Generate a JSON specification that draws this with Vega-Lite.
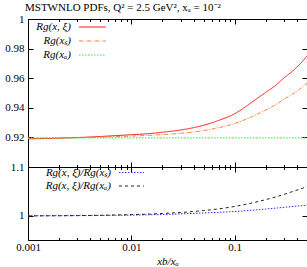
{
  "$schema": "https://vega.github.io/schema/vega-lite/v6.json",
  "autosize": {"type": "pad"},
  "padding": {"left": 4, "top": 1, "right": 0, "bottom": 0},
  "bounds": "flush",
  "spacing": 0,
  "title": {"text": "MSTWNLO PDFs, Q² = 2.5 GeV², xₐ = 10⁻²", "anchor": "start", "frame": "group", "dx": -3, "offset": 0, "font": "Liberation Serif", "fontSize": 11, "fontWeight": "normal", "color": "#000"},
  "config": {
    "view": {"stroke": "#000", "strokeWidth": 1},
    "axis": {"domain": false, "grid": false, "tickColor": "#000", "tickWidth": 1, "labelFont": "Liberation Serif", "labelFontSize": 11, "labelColor": "#000", "titleFont": "Liberation Serif", "titleFontSize": 11, "titleFontWeight": "normal", "titleFontStyle": "italic", "titleColor": "#000", "labelOverlap": false, "labelFlush": false},
    "legend": {"labelFont": "Liberation Serif", "labelFontSize": 11, "labelFontStyle": "italic", "labelColor": "#000", "padding": 0}
  },
  "resolve": {"scale": {"color": "independent", "strokeDash": "independent"}},
  "datasets": {
    "top": [
      {"x": 0.001, "v": 0.9190, "s": "Rg(x, ξ)"}, {"x": 0.002, "v": 0.9195, "s": "Rg(x, ξ)"}, {"x": 0.003, "v": 0.9199, "s": "Rg(x, ξ)"}, {"x": 0.005, "v": 0.9206, "s": "Rg(x, ξ)"}, {"x": 0.007, "v": 0.9212, "s": "Rg(x, ξ)"}, {"x": 0.01, "v": 0.9218, "s": "Rg(x, ξ)"}, {"x": 0.015, "v": 0.9226, "s": "Rg(x, ξ)"}, {"x": 0.02, "v": 0.9235, "s": "Rg(x, ξ)"}, {"x": 0.03, "v": 0.9250, "s": "Rg(x, ξ)"}, {"x": 0.05, "v": 0.9282, "s": "Rg(x, ξ)"}, {"x": 0.07, "v": 0.9315, "s": "Rg(x, ξ)"}, {"x": 0.1, "v": 0.9360, "s": "Rg(x, ξ)"}, {"x": 0.15, "v": 0.9443, "s": "Rg(x, ξ)"}, {"x": 0.2, "v": 0.9505, "s": "Rg(x, ξ)"}, {"x": 0.25, "v": 0.9553, "s": "Rg(x, ξ)"}, {"x": 0.3, "v": 0.9602, "s": "Rg(x, ξ)"}, {"x": 0.35, "v": 0.9639, "s": "Rg(x, ξ)"}, {"x": 0.4, "v": 0.9676, "s": "Rg(x, ξ)"}, {"x": 0.45, "v": 0.9712, "s": "Rg(x, ξ)"}, {"x": 0.5, "v": 0.9751, "s": "Rg(x, ξ)"},
      {"x": 0.001, "v": 0.9193, "s": "Rg(xₛ)"}, {"x": 0.002, "v": 0.9196, "s": "Rg(xₛ)"}, {"x": 0.003, "v": 0.9198, "s": "Rg(xₛ)"}, {"x": 0.005, "v": 0.9202, "s": "Rg(xₛ)"}, {"x": 0.007, "v": 0.9205, "s": "Rg(xₛ)"}, {"x": 0.01, "v": 0.9209, "s": "Rg(xₛ)"}, {"x": 0.015, "v": 0.9214, "s": "Rg(xₛ)"}, {"x": 0.02, "v": 0.9219, "s": "Rg(xₛ)"}, {"x": 0.03, "v": 0.9228, "s": "Rg(xₛ)"}, {"x": 0.05, "v": 0.9246, "s": "Rg(xₛ)"}, {"x": 0.07, "v": 0.9266, "s": "Rg(xₛ)"}, {"x": 0.1, "v": 0.9294, "s": "Rg(xₛ)"}, {"x": 0.15, "v": 0.9343, "s": "Rg(xₛ)"}, {"x": 0.2, "v": 0.9385, "s": "Rg(xₛ)"}, {"x": 0.25, "v": 0.9422, "s": "Rg(xₛ)"}, {"x": 0.3, "v": 0.9458, "s": "Rg(xₛ)"}, {"x": 0.35, "v": 0.9487, "s": "Rg(xₛ)"}, {"x": 0.4, "v": 0.9512, "s": "Rg(xₛ)"}, {"x": 0.45, "v": 0.9540, "s": "Rg(xₛ)"}, {"x": 0.5, "v": 0.9565, "s": "Rg(xₛ)"},
      {"x": 0.001, "v": 0.9197, "s": "Rg(xₐ)"}, {"x": 0.01, "v": 0.9197, "s": "Rg(xₐ)"}, {"x": 0.1, "v": 0.9197, "s": "Rg(xₐ)"}, {"x": 0.5, "v": 0.9197, "s": "Rg(xₐ)"}
    ],
    "bottom": [
      {"x": 0.001, "v": 0.9998, "s": "Rg(x, ξ)/Rg(xₛ)"}, {"x": 0.002, "v": 0.9999, "s": "Rg(x, ξ)/Rg(xₛ)"}, {"x": 0.003, "v": 1.0001, "s": "Rg(x, ξ)/Rg(xₛ)"}, {"x": 0.005, "v": 1.0004, "s": "Rg(x, ξ)/Rg(xₛ)"}, {"x": 0.007, "v": 1.0007, "s": "Rg(x, ξ)/Rg(xₛ)"}, {"x": 0.01, "v": 1.0011, "s": "Rg(x, ξ)/Rg(xₛ)"}, {"x": 0.015, "v": 1.0018, "s": "Rg(x, ξ)/Rg(xₛ)"}, {"x": 0.02, "v": 1.0024, "s": "Rg(x, ξ)/Rg(xₛ)"}, {"x": 0.03, "v": 1.0036, "s": "Rg(x, ξ)/Rg(xₛ)"}, {"x": 0.05, "v": 1.0055, "s": "Rg(x, ξ)/Rg(xₛ)"}, {"x": 0.07, "v": 1.0069, "s": "Rg(x, ξ)/Rg(xₛ)"}, {"x": 0.1, "v": 1.0086, "s": "Rg(x, ξ)/Rg(xₛ)"}, {"x": 0.15, "v": 1.0113, "s": "Rg(x, ξ)/Rg(xₛ)"}, {"x": 0.2, "v": 1.0137, "s": "Rg(x, ξ)/Rg(xₛ)"}, {"x": 0.25, "v": 1.0155, "s": "Rg(x, ξ)/Rg(xₛ)"}, {"x": 0.3, "v": 1.0172, "s": "Rg(x, ξ)/Rg(xₛ)"}, {"x": 0.35, "v": 1.0185, "s": "Rg(x, ξ)/Rg(xₛ)"}, {"x": 0.4, "v": 1.0197, "s": "Rg(x, ξ)/Rg(xₛ)"}, {"x": 0.45, "v": 1.0206, "s": "Rg(x, ξ)/Rg(xₛ)"}, {"x": 0.5, "v": 1.0214, "s": "Rg(x, ξ)/Rg(xₛ)"},
      {"x": 0.001, "v": 0.9995, "s": "Rg(x, ξ)/Rg(xₐ)"}, {"x": 0.002, "v": 0.9999, "s": "Rg(x, ξ)/Rg(xₐ)"}, {"x": 0.003, "v": 1.0002, "s": "Rg(x, ξ)/Rg(xₐ)"}, {"x": 0.005, "v": 1.0008, "s": "Rg(x, ξ)/Rg(xₐ)"}, {"x": 0.007, "v": 1.0014, "s": "Rg(x, ξ)/Rg(xₐ)"}, {"x": 0.01, "v": 1.0022, "s": "Rg(x, ξ)/Rg(xₐ)"}, {"x": 0.015, "v": 1.0033, "s": "Rg(x, ξ)/Rg(xₐ)"}, {"x": 0.02, "v": 1.0045, "s": "Rg(x, ξ)/Rg(xₐ)"}, {"x": 0.03, "v": 1.0065, "s": "Rg(x, ξ)/Rg(xₐ)"}, {"x": 0.05, "v": 1.0105, "s": "Rg(x, ξ)/Rg(xₐ)"}, {"x": 0.07, "v": 1.0140, "s": "Rg(x, ξ)/Rg(xₐ)"}, {"x": 0.1, "v": 1.0190, "s": "Rg(x, ξ)/Rg(xₐ)"}, {"x": 0.15, "v": 1.0265, "s": "Rg(x, ξ)/Rg(xₐ)"}, {"x": 0.2, "v": 1.0330, "s": "Rg(x, ξ)/Rg(xₐ)"}, {"x": 0.25, "v": 1.0385, "s": "Rg(x, ξ)/Rg(xₐ)"}, {"x": 0.3, "v": 1.0437, "s": "Rg(x, ξ)/Rg(xₐ)"}, {"x": 0.35, "v": 1.0485, "s": "Rg(x, ξ)/Rg(xₐ)"}, {"x": 0.4, "v": 1.0525, "s": "Rg(x, ξ)/Rg(xₐ)"}, {"x": 0.45, "v": 1.0563, "s": "Rg(x, ξ)/Rg(xₐ)"}, {"x": 0.5, "v": 1.0598, "s": "Rg(x, ξ)/Rg(xₐ)"}
    ]
  },
  "vconcat": [
    {
      "width": 279, "height": 148,
      "data": {"name": "top"},
      "resolve": {"axis": {"x": "independent", "y": "independent"}},
      "layer": [
        {
          "transform": [{"filter": "datum.s == 'Rg(x, ξ)'"}],
          "mark": {"type": "line", "strokeWidth": 1, "clip": true, "interpolate": "monotone"},
          "encoding": {
            "x": {"field": "x", "type": "quantitative", "scale": {"type": "log", "domain": [0.001, 0.5], "nice": false},
              "axis": {"orient": "bottom", "title": null, "labels": false, "values": [0.001,0.002,0.003,0.004,0.005,0.006,0.007,0.008,0.009,0.01,0.02,0.03,0.04,0.05,0.06,0.07,0.08,0.09,0.1,0.2,0.3,0.4,0.5],
                "tickSize": {"condition": {"test": "abs(log(datum.value)/LN10 - round(log(datum.value)/LN10)) < 0.001", "value": -5}, "value": -2.5}}},
            "y": {"field": "v", "type": "quantitative", "scale": {"domain": [0.9, 1.0], "nice": false, "zero": false},
              "axis": {"orient": "left", "title": null, "values": [0.92, 0.94, 0.96, 0.98, 1.0], "format": "~g", "tickSize": -5, "labelPadding": 9}},
            "color": {"field": "s", "type": "nominal", "scale": {"domain": ["Rg(x, ξ)", "Rg(xₛ)", "Rg(xₐ)"], "range": ["#ff1a1a", "#ff7f3f", "#22ee22"]},
              "legend": {"orient": "none", "legendX": 59, "legendY": 2.5, "title": null, "symbolType": "M-5,0H5", "symbolSize": 29, "symbolStrokeWidth": 1, "labelAlign": "right", "labelOffset": -27, "rowPadding": 2}},
            "strokeDash": {"field": "s", "type": "nominal", "scale": {"domain": ["Rg(x, ξ)", "Rg(xₛ)", "Rg(xₐ)"], "range": [[1, 0], [4, 1.5, 1, 1.5], [1.5, 1.5]]}, "legend": null}
          }
        },
        {
          "transform": [{"filter": "datum.s == 'Rg(xₛ)'"}],
          "mark": {"type": "line", "strokeWidth": 1, "clip": true, "interpolate": "monotone"},
          "encoding": {
            "x": {"field": "x", "type": "quantitative", "scale": {"type": "log", "domain": [0.001, 0.5], "nice": false},
              "axis": {"orient": "top", "title": null, "labels": false, "values": [0.001,0.002,0.003,0.004,0.005,0.006,0.007,0.008,0.009,0.01,0.02,0.03,0.04,0.05,0.06,0.07,0.08,0.09,0.1,0.2,0.3,0.4,0.5],
                "tickSize": {"condition": {"test": "abs(log(datum.value)/LN10 - round(log(datum.value)/LN10)) < 0.001", "value": -5}, "value": -2.5}}},
            "y": {"field": "v", "type": "quantitative", "scale": {"domain": [0.9, 1.0], "nice": false, "zero": false},
              "axis": {"orient": "right", "title": null, "labels": false, "values": [0.92, 0.94, 0.96, 0.98, 1.0], "tickSize": -5}},
            "color": {"field": "s", "type": "nominal", "legend": null},
            "strokeDash": {"field": "s", "type": "nominal", "legend": null}
          }
        },
        {
          "transform": [{"filter": "datum.s == 'Rg(xₐ)'"}],
          "mark": {"type": "line", "strokeWidth": 1, "clip": true},
          "encoding": {
            "x": {"field": "x", "type": "quantitative", "axis": null},
            "y": {"field": "v", "type": "quantitative", "axis": null},
            "color": {"field": "s", "type": "nominal", "legend": null},
            "strokeDash": {"field": "s", "type": "nominal", "legend": null}
          }
        }
      ]
    },
    {
      "width": 279, "height": 73,
      "data": {"name": "bottom"},
      "resolve": {"axis": {"x": "independent", "y": "independent"}},
      "layer": [
        {
          "transform": [{"filter": "datum.s == 'Rg(x, ξ)/Rg(xₛ)'"}],
          "mark": {"type": "line", "strokeWidth": 1, "clip": true, "interpolate": "monotone"},
          "encoding": {
            "x": {"field": "x", "type": "quantitative", "scale": {"type": "log", "domain": [0.001, 0.5], "nice": false},
              "axis": {"orient": "bottom", "title": "xb/xₐ", "format": "~g", "labelPadding": 6, "titlePadding": 1, "values": [0.001,0.002,0.003,0.004,0.005,0.006,0.007,0.008,0.009,0.01,0.02,0.03,0.04,0.05,0.06,0.07,0.08,0.09,0.1,0.2,0.3,0.4,0.5],
                "labelExpr": "abs(log(datum.value)/LN10 - round(log(datum.value)/LN10)) < 0.001 ? datum.label : ''",
                "tickSize": {"condition": {"test": "abs(log(datum.value)/LN10 - round(log(datum.value)/LN10)) < 0.001", "value": -5}, "value": -2.5}}},
            "y": {"field": "v", "type": "quantitative", "scale": {"domain": [0.95, 1.1], "nice": false, "zero": false},
              "axis": {"orient": "left", "title": null, "values": [1.0, 1.1], "format": "~g", "tickSize": -5, "labelPadding": 9}},
            "color": {"field": "s", "type": "nominal", "scale": {"domain": ["Rg(x, ξ)/Rg(xₛ)", "Rg(x, ξ)/Rg(xₐ)"], "range": ["#3333ff", "#222222"]},
              "legend": {"orient": "none", "legendX": 98, "legendY": 0, "title": null, "symbolType": "M-5,0H5", "symbolSize": 25, "symbolStrokeWidth": 1, "labelAlign": "right", "labelOffset": -26, "rowPadding": 1.5}},
            "strokeDash": {"field": "s", "type": "nominal", "scale": {"domain": ["Rg(x, ξ)/Rg(xₛ)", "Rg(x, ξ)/Rg(xₐ)"], "range": [[1.5, 1.5], [3, 3]]}, "legend": null}
          }
        },
        {
          "transform": [{"filter": "datum.s == 'Rg(x, ξ)/Rg(xₐ)'"}],
          "mark": {"type": "line", "strokeWidth": 1, "clip": true, "interpolate": "monotone"},
          "encoding": {
            "x": {"field": "x", "type": "quantitative", "scale": {"type": "log", "domain": [0.001, 0.5], "nice": false},
              "axis": {"orient": "top", "title": null, "labels": false, "values": [0.001,0.002,0.003,0.004,0.005,0.006,0.007,0.008,0.009,0.01,0.02,0.03,0.04,0.05,0.06,0.07,0.08,0.09,0.1,0.2,0.3,0.4,0.5],
                "tickSize": {"condition": {"test": "abs(log(datum.value)/LN10 - round(log(datum.value)/LN10)) < 0.001", "value": -5}, "value": -2.5}}},
            "y": {"field": "v", "type": "quantitative", "scale": {"domain": [0.95, 1.1], "nice": false, "zero": false},
              "axis": {"orient": "right", "title": null, "labels": false, "values": [1.0, 1.1], "tickSize": -5}},
            "color": {"field": "s", "type": "nominal", "legend": null},
            "strokeDash": {"field": "s", "type": "nominal", "legend": null}
          }
        }
      ]
    }
  ]
}
